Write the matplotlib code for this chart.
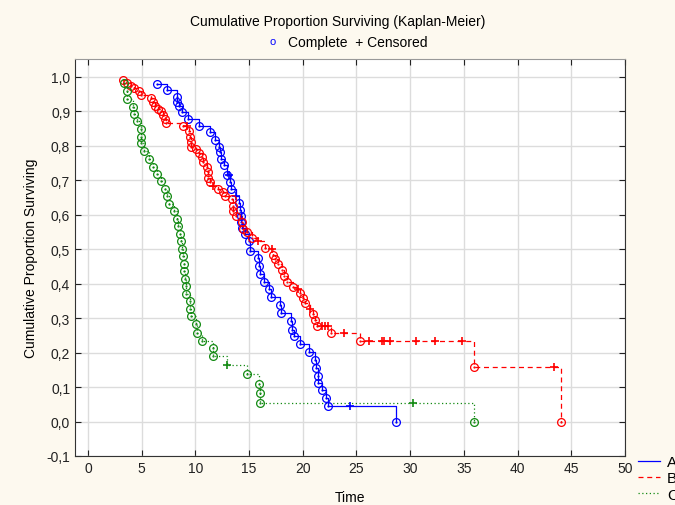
import numpy as np
import matplotlib
matplotlib.use("Agg")
import matplotlib.pyplot as plt
from matplotlib.ticker import MultipleLocator, FuncFormatter
from matplotlib.lines import Line2D

plt.rcParams['font.family'] = ['Liberation Sans', 'DejaVu Sans']

## Kaplan-Meier estimates
## status: 1 = complete, 0 = censored
time_A = [6.42, 7.40, 8.26, 8.26, 8.47, 8.75, 9.31, 10.34, 11.36, 11.82, 12.23, 12.29,
          12.43, 12.66, 12.91, 13.10, 13.27, 13.36, 13.78, 14.11, 14.15, 14.22, 14.27,
          14.39, 14.62, 15.04, 15.08, 15.83, 15.95, 16.06, 16.43, 16.88, 17.04, 17.88,
          17.94, 18.95, 19.01, 19.21, 19.74, 20.61, 21.14, 21.23, 21.42, 21.42, 21.76,
          22.16, 22.37, 24.39, 28.71]
surv_A = [0.980, 0.962, 0.942, 0.926, 0.916, 0.898, 0.878, 0.859, 0.840, 0.818, 0.798,
          0.782, 0.763, 0.743, 0.715, 0.715, 0.695, 0.674, 0.654, 0.634, 0.613, 0.596,
          0.578, 0.561, 0.544, 0.523, 0.494, 0.474, 0.451, 0.427, 0.404, 0.384, 0.360,
          0.339, 0.315, 0.292, 0.267, 0.247, 0.224, 0.203, 0.180, 0.156, 0.132, 0.113,
          0.091, 0.069, 0.044, 0.044, 0.0]
status_A = [1]*15 + [0] + [1, 1, 0] + [1]*28 + [0, 1]

time_B = [3.23, 3.60, 4.00, 4.28, 4.75, 4.93, 5.91, 6.02, 6.24, 6.56, 6.84, 6.98, 7.17,
          7.29, 8.89, 9.22, 9.43, 9.54, 9.56, 9.64, 10.06, 10.36, 10.59, 10.74, 11.05,
          11.20, 11.20, 11.36, 11.67, 12.08, 12.54, 12.76, 13.38, 13.53, 13.53, 13.78,
          14.31, 14.46, 14.78, 15.24, 15.86, 16.48, 17.10, 17.25, 17.41, 17.72, 18.04,
          18.25, 18.58, 19.12, 19.58, 19.74, 20.02, 20.25, 20.67, 20.98, 21.14, 21.29,
          21.76, 22.07, 22.37, 22.63, 23.84, 25.33, 26.16, 27.37, 27.56, 28.12, 30.54,
          32.31, 34.87, 35.97, 43.36, 44.07]
surv_B = [0.990, 0.983, 0.975, 0.969, 0.958, 0.948, 0.938, 0.928, 0.917, 0.907, 0.900,
          0.890, 0.878, 0.866, 0.859, 0.859, 0.843, 0.827, 0.811, 0.798, 0.791, 0.778,
          0.767, 0.752, 0.738, 0.723, 0.708, 0.694, 0.684, 0.674, 0.665, 0.655, 0.645,
          0.626, 0.611, 0.597, 0.578, 0.558, 0.549, 0.534, 0.523, 0.505, 0.500, 0.483,
          0.471, 0.456, 0.439, 0.422, 0.406, 0.390, 0.384, 0.372, 0.358, 0.343, 0.326,
          0.311, 0.294, 0.277, 0.277, 0.277, 0.277, 0.258, 0.258, 0.235, 0.235, 0.235,
          0.235, 0.235, 0.235, 0.235, 0.235, 0.157, 0.157, 0.0]
status_B = ([1]*15 + [0] + [1]*12 + [0] + [1]*11 + [0, 1, 0] + [1]*7 + [0] + [1]*3 +
            [0] + [1]*3 + [0, 0, 0, 1, 0, 1] + [0]*7 + [1, 0, 1])

time_C = [3.35, 3.63, 3.63, 4.16, 4.28, 4.59, 4.93, 4.93, 4.93, 5.24, 5.65, 6.08, 6.45,
          6.77, 7.17, 7.36, 7.57, 8.04, 8.26, 8.41, 8.57, 8.66, 8.75, 8.82, 8.91, 8.97,
          9.03, 9.10, 9.15, 9.50, 9.53, 9.59, 10.03, 10.12, 10.61, 11.64, 11.64, 12.91,
          14.78, 15.95, 16.01, 16.01, 30.23, 35.91]
surv_C = [0.983, 0.959, 0.936, 0.913, 0.892, 0.872, 0.849, 0.826, 0.808, 0.785, 0.762,
          0.738, 0.718, 0.698, 0.674, 0.654, 0.631, 0.610, 0.587, 0.567, 0.544, 0.523,
          0.500, 0.480, 0.456, 0.436, 0.413, 0.392, 0.369, 0.349, 0.326, 0.305, 0.282,
          0.256, 0.233, 0.212, 0.189, 0.163, 0.137, 0.110, 0.084, 0.055, 0.055, 0.0]
status_C = [1]*37 + [0] + [1]*4 + [0, 1]

groups = ["A", "B", "C"]
colors = ["#0000ff", "#ff0000", "#138a13"]
styles = ["-", (0, (4, 3)), (0, (1, 2))]

fig = plt.figure(figsize=(6.75, 5.06), dpi=100)
fig.patch.set_facecolor("#fdf9ef")
ax = fig.add_axes([75/675, 49/506, 550/675, 397/506])
ax.set_facecolor("white")

data = [(time_A, surv_A, status_A), (time_B, surv_B, status_B), (time_C, surv_C, status_C)]
for (t, s, st), g, c, ls in zip(data, groups, colors, styles):
    t = np.array(t); s = np.array(s); st = np.array(st)
    ax.plot(t, s, drawstyle="steps-post", color=c, linestyle=ls, lw=0.9, label=g, zorder=3)
    done = st == 1
    ax.plot(t[done], s[done], "o", mfc="none", mec=c, ms=5.6, mew=0.9, zorder=4)
    ax.plot(t[done], s[done], ".", color=c, ms=1.2, zorder=4)
    ax.plot(t[~done], s[~done], "+", color=c, ms=6, mew=1.2, zorder=4)

ax.set_xlim(-1.2, 50)
ax.set_ylim(-0.1, 1.052)
ax.xaxis.set_major_locator(MultipleLocator(5))
ax.yaxis.set_major_locator(MultipleLocator(0.1))

def comma(v, pos):
    if abs(v) < 1e-9:
        v = 0.0
    return f"{v:.1f}".replace(".", ",")

ax.yaxis.set_major_formatter(FuncFormatter(comma))
ax.grid(True, color="#dcdcdc", lw=1)
ax.set_axisbelow(True)
ax.tick_params(direction="in", length=4, labelsize=10, colors="#222222",
               top=True, right=True)
for side in ["left", "bottom", "right"]:
    ax.spines[side].set_color("#333333")
ax.spines["top"].set_color("#999999")

ax.set_xlabel("Time", fontsize=10, labelpad=11)
ax.set_ylabel("Cumulative Proportion Surviving", fontsize=10, labelpad=6)

fig.text(0.5, 1 - 22/506, "Cumulative Proportion Surviving (Kaplan-Meier)",
         ha="center", va="center", fontsize=10)
fig.text(273/675, 1 - 42/506, "o", color="#0000ff", ha="center", va="center", fontsize=8)
fig.text(0.53, 1 - 43/506, "Complete  + Censored", ha="center", va="center", fontsize=10)

handles = [Line2D([], [], color=c, linestyle=ls, lw=0.9) for c, ls in zip(colors, styles)]
fig.legend(handles, groups, loc="upper left", bbox_to_anchor=(638/675, 1 - 456/506),
           frameon=False, fontsize=11, handlelength=1.45, handletextpad=0.45,
           labelspacing=0.15, borderpad=0, borderaxespad=0)

fig.savefig("out.png", dpi=100, facecolor=fig.get_facecolor())
